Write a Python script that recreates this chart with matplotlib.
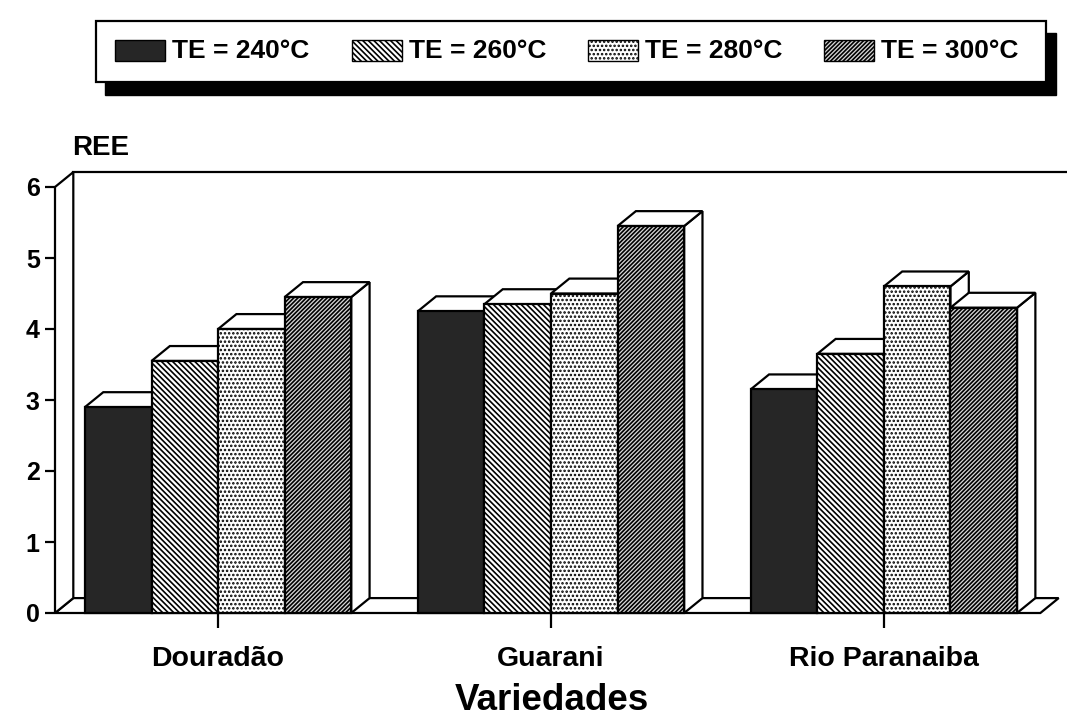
import matplotlib
matplotlib.use('Agg')
import matplotlib.pyplot as plt
from matplotlib.patches import Rectangle, Polygon

# REE per variety for each extraction temperature
varieties = ['Douradão', 'Guarani', 'Rio Paranaiba']
te_labels = ['TE = 240°C', 'TE = 260°C', 'TE = 280°C', 'TE = 300°C']
te240 = [2.9, 4.25, 3.15]
te260 = [3.55, 4.35, 3.65]
te280 = [4.0, 4.5, 4.6]
te300 = [4.45, 5.45, 4.3]
series = [te240, te260, te280, te300]
yticks = [0, 1, 2, 3, 4, 5, 6]

plt.rcParams['font.family'] = ['Liberation Sans', 'DejaVu Sans']
plt.rcParams['font.weight'] = 'bold'
plt.rcParams['hatch.linewidth'] = 1.2

# fill / hatch for each temperature
looks = [
    dict(facecolor='#262626', hatch=None),
    dict(facecolor='white', hatch='\\' * 6),
    dict(facecolor='white', hatch='....'),
    dict(facecolor='#d8d8d8', hatch='/' * 8),
]

W, H = 1067, 722
fig = plt.figure(figsize=(W / 100, H / 100), dpi=100)

# legend box with a drop shadow, drawn in pixel coordinates
lax = fig.add_axes([0, 0, 1, 1])
lax.set_xlim(0, W)
lax.set_ylim(H, 0)
lax.axis('off')
lax.add_patch(Rectangle((105, 33), 951, 62, facecolor='black', edgecolor='black'))
lax.add_patch(Rectangle((96, 21), 950, 61, facecolor='white', edgecolor='black', lw=1.6))
sw_x = [115, 352, 588, 824]
for x0, lab, lk in zip(sw_x, te_labels, looks):
    lax.add_patch(Rectangle((x0, 40), 50, 21, edgecolor='black', lw=1.0, **lk))
    lax.text(x0 + 57, 51, lab, fontsize=19, fontweight='bold', va='center', ha='left')

# main axes: one unit per variety on x, REE on y
ax = fig.add_axes([55 / W, 109 / H, 1 - 55 / W, 426 / H])
ax.set_xlim(-0.49, 2.55)
ax.set_ylim(0, 6)
for s in ax.spines.values():
    s.set_visible(False)
ax.patch.set_visible(False)

dx, dy = 0.055, 0.21      # depth offset of the pseudo-3D look
x_left, x_right = -0.49, 2.47
lw = 1.6

# floor, left wall and back wall
ax.add_patch(Polygon([(x_left, 0), (x_right, 0), (x_right + dx, dy), (x_left + dx, dy)],
                     closed=True, facecolor='white', edgecolor='black', lw=lw,
                     clip_on=False, zorder=1))
ax.add_patch(Polygon([(x_left, 0), (x_left, 6), (x_left + dx, 6 + dy), (x_left + dx, dy)],
                     closed=True, facecolor='white', edgecolor='black', lw=lw,
                     clip_on=False, zorder=1))
ax.plot([x_left + dx, 2.7], [6 + dy, 6 + dy], color='black', lw=lw, clip_on=False, zorder=1)

bw = 0.2
z = 2
for g in range(len(varieties)):
    for k, (vals, lk) in enumerate(zip(series, looks)):
        h = vals[g]
        x0 = g + (k - 2) * bw
        x1 = x0 + bw
        side = Polygon([(x1, 0), (x1, h), (x1 + dx, h + dy), (x1 + dx, dy)], closed=True,
                       facecolor='white', edgecolor='black', lw=lw, zorder=z, clip_on=False)
        top = Polygon([(x0, h), (x1, h), (x1 + dx, h + dy), (x0 + dx, h + dy)], closed=True,
                      facecolor='white', edgecolor='black', lw=lw, zorder=z, clip_on=False)
        front = Rectangle((x0, 0), bw, h, edgecolor='black', lw=lw, zorder=z + 0.5,
                          clip_on=False, **lk)
        ax.add_patch(side)
        ax.add_patch(top)
        ax.add_patch(front)
        z += 1

ax.set_yticks(yticks)
ax.set_yticklabels([str(t) for t in yticks], fontsize=18, fontweight='bold')
ax.tick_params(axis='y', length=7, width=1.6, pad=4, direction='out')
ax.set_xticks(range(len(varieties)))
ax.set_xticklabels(varieties, fontsize=20.5, fontweight='bold')
ax.tick_params(axis='x', length=11, width=1.6, pad=13, direction='out')

fig.text(72 / W, 1 - 148 / H, 'REE', fontsize=20, fontweight='bold', ha='left', va='center')
fig.text(552 / W, 1 - 700 / H, 'Variedades', fontsize=26.5, fontweight='bold',
         ha='center', va='center')

fig.savefig('out.png', dpi=100)
